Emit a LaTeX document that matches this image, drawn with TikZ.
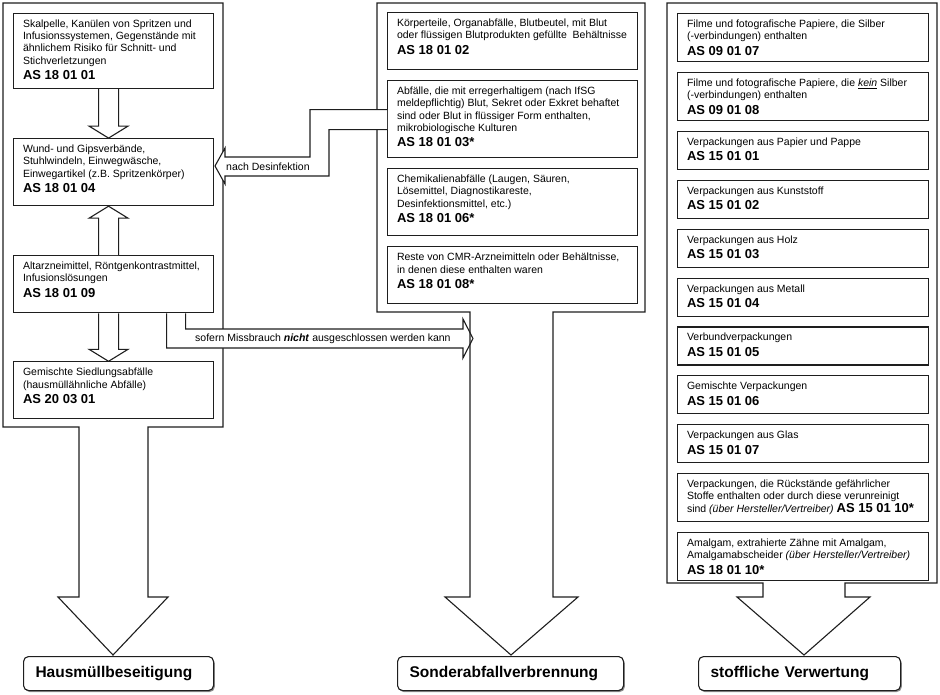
\documentclass[tikz,border=0pt]{standalone}
\usepackage{fontspec}
\setmainfont{Liberation Sans}
\usepackage{tikz}
\usetikzlibrary{positioning,calc,shadows}
\definecolor{ink}{HTML}{1E1E1E}
\definecolor{shade}{HTML}{8C8C8C}

% box content: width, height, text (top aligned)
\newcommand{\boxtext}[3]{\parbox[c][#2][t]{#1}{\fontsize{10.5}{12.2}\selectfont\raggedright
  \parskip=0pt\leftskip=9.5pt\rightskip=-8pt plus 1fil\rule{0pt}{14pt}#3}}
\newcommand{\ascode}[1]{\par\fontsize{13}{15.5}\selectfont\bfseries #1}
\newcommand{\incode}[1]{{\fontsize{13}{12.2}\selectfont\bfseries #1}}
% hollow block arrow between two boxes
\newcommand{\hollowarrow}[2]{%
  \filldraw[hollow] let \p1=(#1), \p2=(#2), \n1={ifthenelse(\y1>\y2,12,-12)} in
    (\x1-10pt,\y1) -- (\x1-10pt,\y2+\n1) -- (\x1-19.5pt,\y2+\n1) -- (\x2,\y2)
    -- (\x1+19.5pt,\y2+\n1) -- (\x1+10pt,\y2+\n1) -- (\x1+10pt,\y1);}

\begin{document}
\begin{tikzpicture}[
    x=1pt, y=-1pt,
    wbox/.style={draw=ink, line width=1.1pt, fill=white, inner sep=0pt, anchor=north west},
    outline/.style={draw=ink, line width=1.1pt, line join=miter},
    hollow/.style={draw=ink, line width=1.1pt, fill=white},
    target/.style={draw=ink, line width=1.1pt, fill=white, rounded corners=5pt, anchor=north west,
        minimum height=34pt, inner xsep=12pt, align=left, font=\fontsize{15.5}{18}\selectfont\bfseries,
        drop shadow={shadow xshift=1.2pt, shadow yshift=-1.5pt, fill=shade, opacity=1}},
    lbl/.style={anchor=west, inner sep=0pt, font=\fontsize{10.5}{12.2}\selectfont}
]
    \useasboundingbox (0,0) rectangle (940,695);

    % Hausmuell
    \draw[outline, fill=white] (3,3) -- (223,3) -- (223,427) -- (148,427) -- (148,597) -- (168,597)
        -- (113,655) -- (58,597) -- (79,597) -- (79,427) -- (3,427) -- cycle;
    \node[wbox] (l1) at (13,13) {\boxtext{200pt}{75pt}{Skalpelle, Kanülen von Spritzen und\\
        Infusionssystemen, Gegenstände mit\\ähnlichem Risiko für Schnitt- und\\
        Stichverletzungen\ascode{AS 18 01 01}}};
    \node[wbox, below=49pt of l1] (l2) {\boxtext{200pt}{67pt}{Wund- und Gipsverbände,\\
        Stuhlwindeln, Einwegwäsche,\\Einwegartikel (z.B. Spritzenkörper)\ascode{AS 18 01 04}}};
    \node[wbox, below=49pt of l2] (l3) {\boxtext{200pt}{57pt}{Altarzneimittel, Röntgenkontrastmittel,\\
        Infusionslösungen\ascode{AS 18 01 09}}};
    \node[wbox, below=48pt of l3] (l4) {\boxtext{200pt}{57pt}{Gemischte Siedlungsabfälle\\
        (hausmüllähnliche Abfälle)\ascode{AS 20 03 01}}};

    \hollowarrow{[xshift=-5pt]l1.south}{[xshift=-5pt]l2.north}
    \hollowarrow{[xshift=-5pt]l3.north}{[xshift=-5pt]l2.south}
    \hollowarrow{[xshift=-5pt]l3.south}{[xshift=-5pt]l4.north}

    \filldraw[hollow] ([xshift=72pt]l3.south) |- (463,329) -- (463,319) -- (473,338.5)
        -- (463,358) -- (463,348) -| ([xshift=53pt]l3.south);
    \node[lbl] (sofern) at (195,338.5) {sofern Missbrauch \textbf{\textit{nicht}} ausgeschlossen werden kann};

    % Sonderabfall
    \draw[outline] (377,3) -- (645,3) -- (645,312) -- (553,312) -- (553,597) -- (578,597)
        -- (511,655) -- (445,597) -- (470,597) -- (470,312) -- (377,312) -- cycle;
    \node[wbox] (m1) at (387,12) {\boxtext{250pt}{57pt}{Körperteile, Organabfälle, Blutbeutel, mit Blut\\
        oder flüssigen Blutprodukten gefüllte\ \ Behältnisse\ascode{AS 18 01 02}}};
    \node[wbox, below=10pt of m1] (m2) {\boxtext{250pt}{77pt}{Abfälle, die mit erregerhaltigem (nach IfSG\\
        meldepflichtig) Blut, Sekret oder Exkret behaftet\\sind oder Blut in flüssiger Form enthalten,\\
        mikrobiologische Kulturen\ascode{AS 18 01 03*}}};
    \node[wbox, below=10pt of m2] (m3) {\boxtext{250pt}{67pt}{Chemikalienabfälle (Laugen, Säuren,\\
        Lösemittel, Diagnostikareste,\\Desinfektionsmittel, etc.)\ascode{AS 18 01 06*}}};
    \node[wbox, below=10pt of m3] (m4) {\boxtext{250pt}{57pt}{Reste von CMR-Arzneimitteln oder Behältnisse,\\
        in denen diese enthalten waren\ascode{AS 18 01 08*}}};

    \filldraw[hollow] ([yshift=9.5pt]m2.west) -| (310,157) -- (225,157) -- (225,148) -- (215,166)
        -- (225,184) -- (225,176) -- (329,176) |- ([yshift=-10.5pt]m2.west);
    \node[lbl] (desinf) at (226,166.5) {nach Desinfektion};

    % Verwertung
    \draw[outline, fill=white] (667,3) -- (937,3) -- (937,583) -- (845,583) -- (845,597) -- (870,597)
        -- (804,655) -- (737,597) -- (763,597) -- (763,583) -- (667,583) -- cycle;
    \node[wbox] (r1) at (677,13) {\boxtext{251pt}{48pt}{Filme und fotografische Papiere, die Silber\\
        (-verbindungen) enthalten\ascode{AS 09 01 07}}};
    \node[wbox, below=9.8pt of r1] (r2) {\boxtext{251pt}{48pt}{Filme und fotografische Papiere, die \underline{\textit{kein}} Silber\\
        (-verbindungen) enthalten\ascode{AS 09 01 08}}};
    \node[wbox, below=9.8pt of r2] (r3) {\boxtext{251pt}{38pt}{Verpackungen aus Papier und Pappe\ascode{AS 15 01 01}}};
    \node[wbox, below=9.8pt of r3] (r4) {\boxtext{251pt}{38pt}{Verpackungen aus Kunststoff\ascode{AS 15 01 02}}};
    \node[wbox, below=9.8pt of r4] (r5) {\boxtext{251pt}{38pt}{Verpackungen aus Holz\ascode{AS 15 01 03}}};
    \node[wbox, below=9.8pt of r5] (r6) {\boxtext{251pt}{38pt}{Verpackungen aus Metall\ascode{AS 15 01 04}}};
    \node[wbox, below=9.8pt of r6] (r7) {\boxtext{251pt}{38pt}{Verbundverpackungen\ascode{AS 15 01 05}}};
    \node[wbox, below=9.8pt of r7] (r8) {\boxtext{251pt}{38pt}{Gemischte Verpackungen\ascode{AS 15 01 06}}};
    \node[wbox, below=9.8pt of r8] (r9) {\boxtext{251pt}{38pt}{Verpackungen aus Glas\ascode{AS 15 01 07}}};
    \node[wbox, below=9.8pt of r9] (r10) {\boxtext{251pt}{48pt}{Verpackungen, die Rückstände gefährlicher\\
        Stoffe enthalten oder durch diese verunreinigt\\
        sind \textit{(über Hersteller/Vertreiber)} \incode{AS 15 01 10*}}};
    \node[wbox, below=9.8pt of r10] (r11) {\boxtext{251pt}{48pt}{Amalgam, extrahierte Zähne mit Amalgam,\\
        Amalgamabscheider \textit{(über Hersteller/Vertreiber)}\ascode{AS 18 01 10*}}};

    % Ziele
    \node[target, text width=166pt] (haus) at (23,656) {Hausmüllbeseitigung};
    \node[target, text width=202pt] (sonder) at (397,656) {Sonderabfallverbrennung};
    \node[target, text width=178pt] (stoff) at (698,656) {stoffliche Verwertung};
\end{tikzpicture}
\end{document}
